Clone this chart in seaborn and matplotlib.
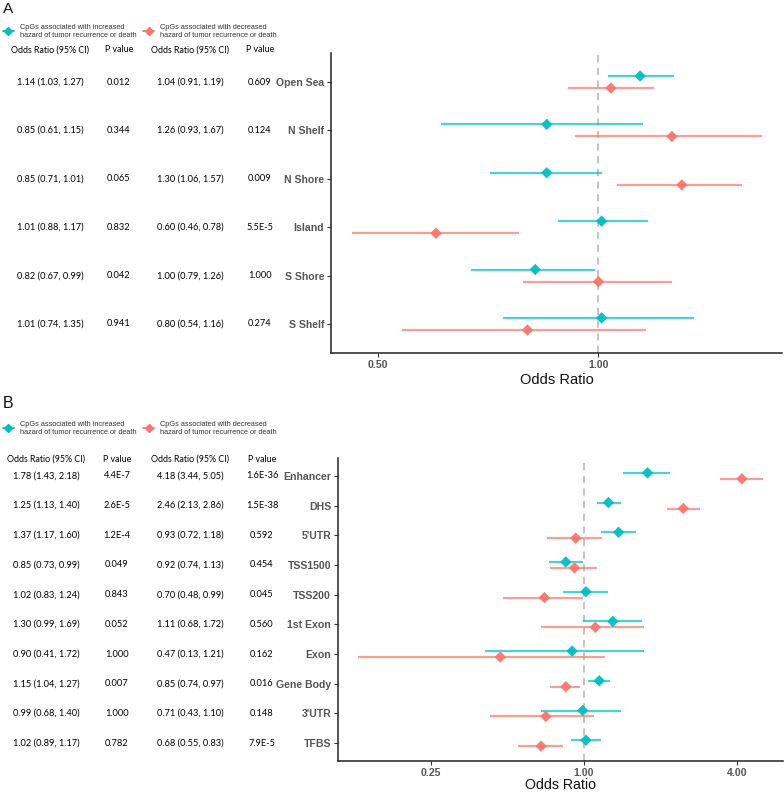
"""Forest plots of CpG odds ratios by CpG island region (A) and by gene feature (B)."""
import matplotlib
matplotlib.use('Agg')
import matplotlib.pyplot as plt
import matplotlib.transforms as mtransforms
from matplotlib.lines import Line2D
import numpy as np
import seaborn as sns

# Panel A: CpG island regions
regions_a = ['Open Sea', 'N Shelf', 'N Shore', 'Island', 'S Shore', 'S Shelf']
inc_or_a = [1.14, 0.85, 0.85, 1.01, 0.82, 1.01]
inc_lo_a = [1.03, 0.61, 0.71, 0.88, 0.67, 0.74]
inc_hi_a = [1.27, 1.15, 1.01, 1.17, 0.99, 1.35]
inc_p_a = ['0.012', '0.344', '0.065', '0.832', '0.042', '0.941']
dec_or_a = [1.04, 1.26, 1.30, 0.60, 1.00, 0.80]
dec_lo_a = [0.91, 0.93, 1.06, 0.46, 0.79, 0.54]
dec_hi_a = [1.19, 1.67, 1.57, 0.78, 1.26, 1.16]
dec_p_a = ['0.609', '0.124', '0.009', '5.5E-5', '1.000', '0.274']

# Panel B: gene features
regions_b = ['Enhancer', 'DHS', "5'UTR", 'TSS1500', 'TSS200', '1st Exon',
             'Exon', 'Gene Body', "3'UTR", 'TFBS']
inc_or_b = [1.78, 1.25, 1.37, 0.85, 1.02, 1.30, 0.90, 1.15, 0.99, 1.02]
inc_lo_b = [1.43, 1.13, 1.17, 0.73, 0.83, 0.99, 0.41, 1.04, 0.68, 0.89]
inc_hi_b = [2.18, 1.40, 1.60, 0.99, 1.24, 1.69, 1.72, 1.27, 1.40, 1.17]
inc_p_b = ['4.4E-7', '2.6E-5', '1.2E-4', '0.049', '0.843', '0.052',
           '1.000', '0.007', '1.000', '0.782']
dec_or_b = [4.18, 2.46, 0.93, 0.92, 0.70, 1.11, 0.47, 0.85, 0.71, 0.68]
dec_lo_b = [3.44, 2.13, 0.72, 0.74, 0.48, 0.68, 0.13, 0.74, 0.43, 0.55]
dec_hi_b = [5.05, 2.86, 1.18, 1.13, 0.99, 1.72, 1.21, 0.97, 1.10, 0.83]
dec_p_b = ['1.6E-36', '1.5E-38', '0.592', '0.454', '0.045', '0.560',
           '0.162', '0.016', '0.148', '7.9E-5']

TEAL = '#00BFC4'
RED = '#F8766D'
LABEL_INC = 'CpGs associated with increased\nhazard of tumor recurrence or death'
LABEL_DEC = 'CpGs associated with decreased\nhazard of tumor recurrence or death'

sns.set_theme(style='ticks')
plt.rcParams['font.family'] = ['Liberation Sans', 'DejaVu Sans']

W, H = 784, 792
fig = plt.figure(figsize=(W / 100, H / 100), dpi=100)


def px_axes(left, top, right, bottom):
    return fig.add_axes([left / W, 1 - bottom / H, (right - left) / W, (bottom - top) / H])


def fmt_ci(o, lo, hi):
    return f'{o:.2f} ({lo:.2f}, {hi:.2f})'


def forest(ax, regions, inc, dec, dodge, xticks, xticklabels, col_x, header_y,
           labelpad, xlabel_size):
    n = len(regions)
    pos = np.arange(n)
    for (o, lo, hi, p), color, shift in [(inc, TEAL, -dodge), (dec, RED, dodge)]:
        y = pos + shift
        ax.hlines(y, lo, hi, color=color, lw=1.6, alpha=0.7, zorder=2)
        sns.scatterplot(x=o, y=y, ax=ax, color=color, marker='D', s=34,
                        edgecolor='none', alpha=0.95, zorder=3, legend=False)
    ax.axvline(1.0, color='#BEBEBE', ls=(0, (4, 3)), lw=1.3, zorder=1)
    ax.set_xscale('log', base=2)
    ax.xaxis.set_minor_locator(matplotlib.ticker.NullLocator())
    ax.set_xticks(xticks)
    ax.set_xticklabels(xticklabels)
    ax.set_yticks(pos)
    ax.set_yticklabels(regions)
    ax.set_ylim(n - 1 + 0.6, -0.6)
    allv = np.log2(np.concatenate([inc[1], inc[2], dec[1], dec[2]]))
    span = allv.max() - allv.min()
    ax.set_xlim(2 ** (allv.min() - 0.05 * span), 2 ** (allv.max() + 0.05 * span))
    sns.despine(ax=ax)
    for s in ['left', 'bottom']:
        ax.spines[s].set_linewidth(1.1)
        ax.spines[s].set_color('#222222')
    ax.tick_params(axis='both', length=3, width=0.8, color='#333333', pad=2,
                   labelcolor='#555555')
    for t in ax.get_xticklabels() + ax.get_yticklabels():
        t.set_fontweight('bold')
        t.set_fontsize(7.6)
    ax.set_xlabel('Odds Ratio', fontsize=xlabel_size, color='#111111', labelpad=labelpad)
    ax.set_ylabel('')

    # table to the left of the axes
    trans = mtransforms.blended_transform_factory(fig.transFigure, ax.transData)
    cols = [
        [fmt_ci(*v) for v in zip(*inc[:3])], inc[3],
        [fmt_ci(*v) for v in zip(*dec[:3])], dec[3],
    ]
    headers = ['Odds Ratio (95% CI)', 'P value', 'Odds Ratio (95% CI)', 'P value']
    for cx, col, head in zip(col_x, cols, headers):
        for i, txt in enumerate(col):
            ax.text(cx / W, i, txt, transform=trans, ha='center', va='center',
                    fontsize=6.7, family=['Lato', 'DejaVu Sans'], color='#000000')
        fig.text(cx / W, 1 - header_y / H, head, ha='center', va='center',
                 fontsize=6.4, family=['Lato', 'DejaVu Sans'], color='#000000')


def legend(top_px):
    handles = [Line2D([], [], color=TEAL, marker='D', ms=3.8, lw=1.3),
               Line2D([], [], color=RED, marker='D', ms=3.8, lw=1.3)]
    fig.legend(handles, [LABEL_INC, LABEL_DEC], loc='upper left',
               bbox_to_anchor=(0.0, 1 - top_px / H), ncol=2, frameon=False,
               fontsize=5.3, handlelength=1.5, handletextpad=0.8,
               columnspacing=0.9, labelcolor='#333333', borderaxespad=0)


# Panel A
ax_a = px_axes(331, 53, 782, 353)
forest(ax_a, regions_a,
       (inc_or_a, inc_lo_a, inc_hi_a, inc_p_a),
       (dec_or_a, dec_lo_a, dec_hi_a, dec_p_a),
       0.125, [0.5, 1.0], ['0.50', '1.00'], [50, 119, 190, 260], 50, 2, 10.5)
fig.text(3 / W, 1 - 9 / H, 'A', fontsize=11, va='center', ha='left', color='#111111')
legend(21)

# Panel B
ax_b = px_axes(338, 458, 783, 761)
forest(ax_b, regions_b,
       (inc_or_b, inc_lo_b, inc_hi_b, inc_p_b),
       (dec_or_b, dec_lo_b, dec_hi_b, dec_p_b),
       0.1, [0.25, 1.0, 4.0], ['0.25', '1.00', '4.00'], [46, 117, 190, 262], 459, 0, 10.2)
fig.text(3 / W, 1 - 403 / H, 'B', fontsize=11.5, va='center', ha='left', color='#111111')
legend(418)

fig.savefig('out.png', dpi=100)
